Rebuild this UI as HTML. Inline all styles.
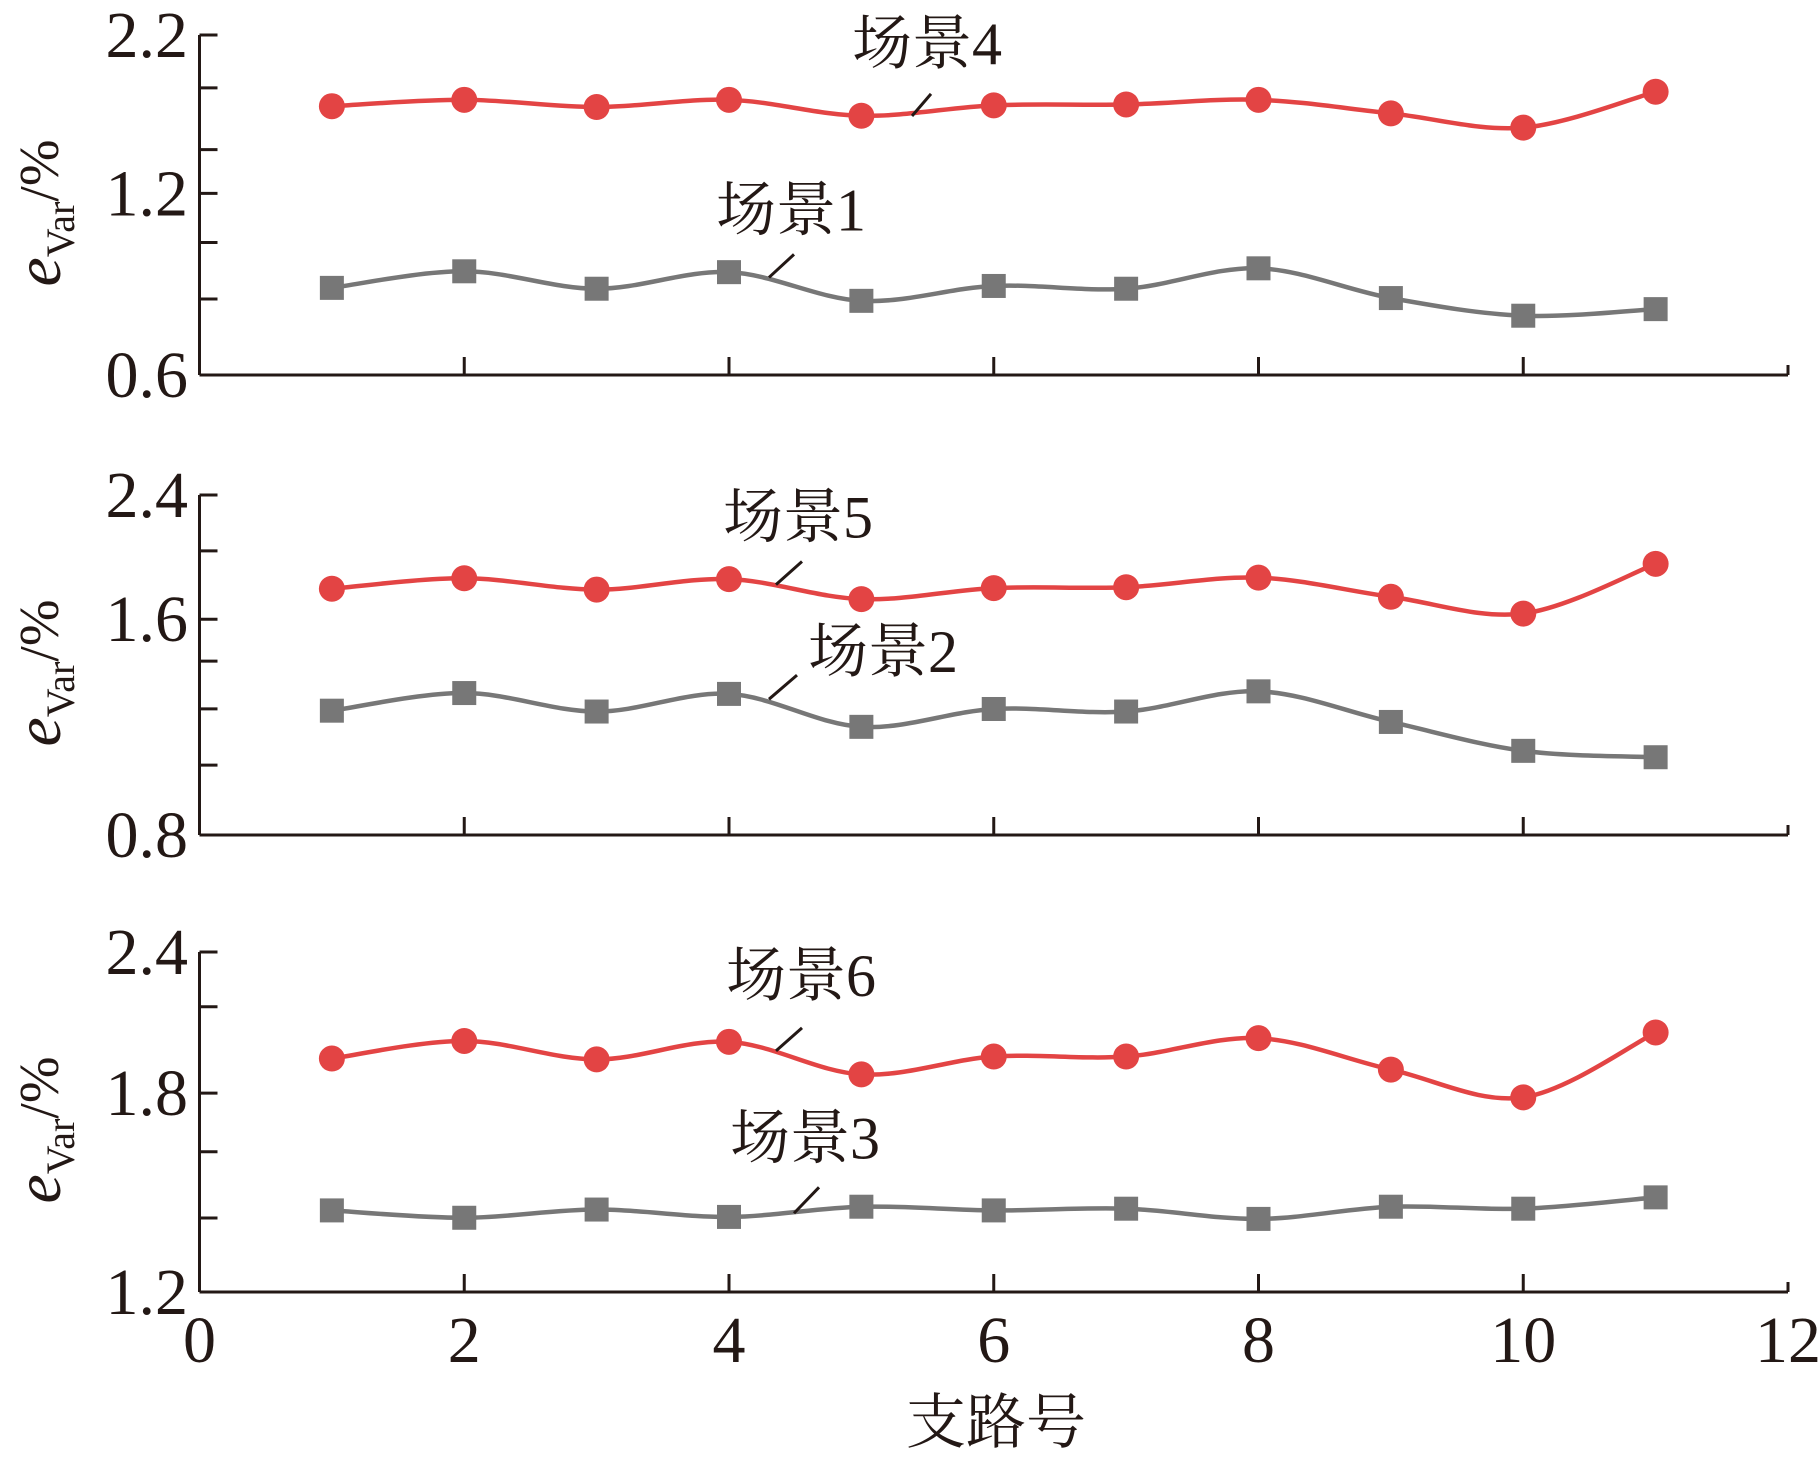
<!DOCTYPE html>
<html><head><meta charset="utf-8"><style>
html,body{margin:0;padding:0;background:#fff;}
svg{display:block;}
text{fill:#231815;}
.tk{font-family:"Liberation Serif",serif;font-size:66px;}
.an{font-family:"Liberation Serif","Noto Serif CJK SC",serif;font-size:60px;}
</style></head><body>
<svg id="chart" width="1819" height="1458" viewBox="0 0 1819 1458" xmlns="http://www.w3.org/2000/svg"></svg>
<script>
const branches=[1,2,3,4,5,6,7,8,9,10,11];
const xTicks=[0,2,4,6,8,10,12];
const s1=[1.010,1.088,1.006,1.084,0.949,1.019,1.006,1.102,0.962,0.879,0.910];
const s4=[1.865,1.895,1.861,1.895,1.820,1.869,1.873,1.895,1.831,1.764,1.933];
const s2=[1.385,1.468,1.381,1.464,1.309,1.393,1.381,1.476,1.332,1.196,1.166];
const s5=[1.959,2.008,1.955,2.004,1.910,1.962,1.966,2.011,1.921,1.842,2.076];
const s3=[1.488,1.462,1.491,1.465,1.501,1.488,1.494,1.458,1.501,1.494,1.534];
const s6=[2.024,2.086,2.021,2.083,1.968,2.031,2.031,2.096,1.985,1.887,2.116];
const panel1Labels=["2.2","1.2","0.6"];
const panel2Labels=["2.4","1.6","0.8"];
const panel3Labels=["2.4","1.8","1.2"];

const NS="http://www.w3.org/2000/svg";
const svg=document.getElementById('chart');
function mk(tag,attrs,parent){const e=document.createElementNS(NS,tag);for(const k in attrs)e.setAttribute(k,attrs[k]);(parent||svg).appendChild(e);return e;}
const X0=199.5,X1=1788;
const xs=v=>X0+(v-0)/(12-0)*(X1-X0);

const panels=[
 {ot:34.7,ob:388.5,top:35,bot:375,min:0.6,max:2.2,labels:panel1Labels,labelY:[34.7,199.5,388.5],minor:[89.7,154,250.6,309.4],
  series:[{d:s1,c:'#777777',sq:true,name:'scenario-1'},{d:s4,c:'#e34444',sq:false,name:'scenario-4'}],
  ann:[{t:'场景4',x:852,y:65,l:[912,119,931,96]},{t:'场景1',x:716,y:238,l:[769,287,794,263]}]},
 {ot:511,ob:864,top:495,bot:835,min:0.8,max:2.4,labels:panel2Labels,labelY:[511,640,864],minor:[569,683.5,733,791.5],
  series:[{d:s2,c:'#777777',sq:true,name:'scenario-2'},{d:s5,c:'#e34444',sq:false,name:'scenario-5'}],
  ann:[{t:'场景5',x:723,y:555,l:[776,604,802,580]},{t:'场景2',x:808,y:695,l:[769,723,797,698]}]},
 {ot:981,ob:1335,top:952,bot:1292,min:1.2,max:2.4,labels:panel3Labels,labelY:[981,1128,1335],minor:[1038,1189,1258],
  series:[{d:s3,c:'#777777',sq:true,name:'scenario-3'},{d:s6,c:'#e34444',sq:false,name:'scenario-6'}],
  ann:[{t:'场景6',x:726,y:1027,l:[776,1084,802,1060]},{t:'场景3',x:730,y:1196,l:[794,1253,819,1226]}]}
];

panels.forEach((p,pi)=>{
 const g=mk('g',{});
 
 
 const f=y=>p.top+(y-p.ot)/(p.ob-p.ot)*(p.bot-p.top);
 const ys=v=>p.bot-(v-p.min)/(p.max-p.min)*(p.bot-p.top);
 const ya=mk('line',{x1:X0,y1:p.top,x2:X0,y2:p.bot,stroke:'#231815','stroke-width':3},g);
 
 
 const xa=mk('line',{x1:X0,y1:p.bot,x2:X1,y2:p.bot,stroke:'#231815','stroke-width':3},g);
 
 
 p.labelY.forEach((y0,i)=>{
  const y=f(y0);
  mk('line',{x1:X0,y1:y,x2:X0+18,y2:y,stroke:'#231815','stroke-width':3},g);
  const t=mk('text',{x:188,y:y+22,'text-anchor':'end',class:'tk'},g);
  t.textContent=p.labels[i];
  
  
 });
 p.minor.forEach(y0=>{const y=f(y0);mk('line',{x1:X0,y1:y,x2:X0+18,y2:y,stroke:'#231815','stroke-width':3},g);});
 xTicks.forEach(v=>{
  if(v===0)return;
  mk('line',{x1:xs(v),y1:p.bot,x2:xs(v),y2:p.bot-(v===12?10:18),stroke:'#231815','stroke-width':3},g);
 });
 const yt=mk('text',{transform:`translate(60,${(p.top+p.bot)/2+8}) rotate(-90)`,'text-anchor':'middle',class:'tk'},g);
 
 
 const e=mk('tspan',{'font-style':'italic','font-size':'66'},yt);e.textContent='e';
 const sb=mk('tspan',{'font-size':'40',dy:'14'},yt);sb.textContent='Var';
 const rest=mk('tspan',{'font-size':'56',dy:'-16'},yt);rest.textContent='/%';
 p.series.forEach(s=>{
  const pts=branches.map((b,i)=>[xs(b),ys(s.d[i])]);
  let d=`M${pts[0][0]},${pts[0][1]}`;
  for(let i=0;i<pts.length-1;i++){
   const p0=pts[Math.max(0,i-1)],p1=pts[i],p2=pts[i+1],p3=pts[Math.min(pts.length-1,i+2)];
   const c1=[p1[0]+(p2[0]-p0[0])/6,p1[1]+(p2[1]-p0[1])/6];
   const c2=[p2[0]-(p3[0]-p1[0])/6,p2[1]-(p3[1]-p1[1])/6];
   d+=` C${c1[0]},${c1[1]} ${c2[0]},${c2[1]} ${p2[0]},${p2[1]}`;
  }
  const path=mk('path',{d:d,fill:'none',stroke:s.c,'stroke-width':4.5},g);
  
  
  pts.forEach(pt=>{
   let m;
   if(s.sq){m=mk('rect',{x:pt[0]-12,y:pt[1]-12,width:24,height:24,fill:s.c},g);}
   else{m=mk('circle',{cx:pt[0],cy:pt[1],r:13,fill:s.c},g);}
   
   
  });
 });
 p.ann.forEach(a=>{
  const t=mk('text',{x:a.x,y:f(a.y),class:'an'},g);
  t.textContent=a.t;
  
  
  mk('line',{x1:a.l[0],y1:f(a.l[1]),x2:a.l[2],y2:f(a.l[3]),stroke:'#231815','stroke-width':3},g);
 });
});
xTicks.forEach(v=>{
 const t=mk('text',{x:xs(v),y:1362,'text-anchor':'middle',class:'tk'});
 t.textContent=String(v);
 
 
});
const xt=mk('text',{x:996,y:1443,'text-anchor':'middle',class:'an','font-size':'68'});
xt.textContent='支路号';


</script>
</body></html>
